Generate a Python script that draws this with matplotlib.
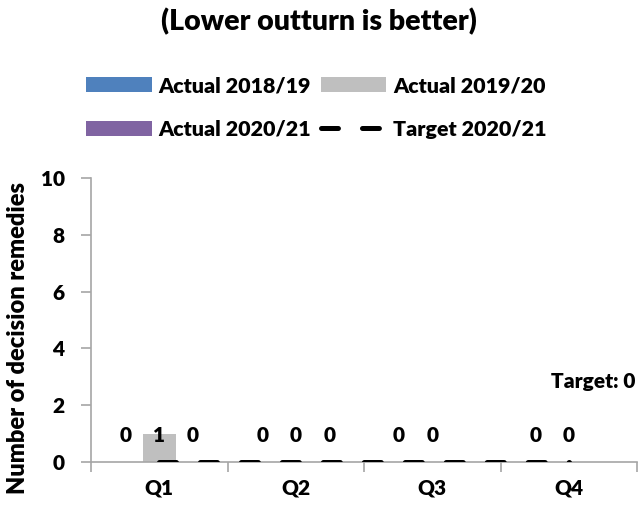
import matplotlib
matplotlib.use("Agg")
import matplotlib.pyplot as plt
import numpy as np
from matplotlib.patches import Patch
from matplotlib.lines import Line2D

plt.rcParams['font.family'] = ['Lato', 'DejaVu Sans']
plt.rcParams['font.weight'] = 'heavy'
plt.rcParams['lines.scale_dashes'] = False

quarters = ["Q1", "Q2", "Q3", "Q4"]
actual_2018_19 = [0, 0, 0, 0]
actual_2019_20 = [1, 0, 0, 0]
actual_2020_21 = [0, 0, None, None]
target_2020_21 = [0, 0, 0, 0]
target_value = 0

series = [
    ("Actual 2018/19", actual_2018_19, "#4F81BD"),
    ("Actual 2019/20", actual_2019_20, "#BFBFBF"),
    ("Actual 2020/21", actual_2020_21, "#8064A2"),
]
W = "heavy"

fig = plt.figure(figsize=(6.41, 5.07), dpi=100)
ax = fig.add_axes([0.142, 0.0888, 0.852, 0.560])

x = np.arange(len(quarters))
width = 0.245
offsets = [-width, 0, width]
for (name, vals, color), off in zip(series, offsets):
    for xi, v in zip(x, vals):
        if v is None:
            continue
        ax.bar(xi + off, v, width=width, color=color, zorder=2)
        ax.text(xi + off, 0.93, f"{v}", ha="center", va="center",
                fontsize=15, fontweight=W, zorder=4)

ax.plot(x, target_2020_21, color="black", linewidth=3.6,
        dashes=(12.2, 17.3), dash_capstyle="round",
        solid_capstyle="round", zorder=3)

ax.text(3.49, 2.82, f"Target: {target_value}", ha="right", va="center",
        fontsize=15, fontweight=W)

ax.set_xlim(-0.5, 3.5)
ax.set_ylim(0, 10)
ax.set_yticks([0, 2, 4, 6, 8, 10])
ax.set_xticks([-0.5, 0.5, 1.5, 2.5, 3.5])
ax.set_xticklabels([])
ax.set_xticks(x, minor=True)
ax.set_xticklabels(quarters, minor=True)
ax.tick_params(axis="x", which="minor", length=0, pad=12, labelsize=15)
ax.tick_params(axis="x", which="major", length=7, color="#A6A6A6", width=1.2)
ax.tick_params(axis="y", length=7, color="#A6A6A6", width=1.2, labelsize=15, pad=12)
for lab in ax.get_xticklabels(minor=True) + ax.get_yticklabels():
    lab.set_fontweight(W)

for side in ["top", "right"]:
    ax.spines[side].set_visible(False)
for side in ["left", "bottom"]:
    ax.spines[side].set_color("#A6A6A6")
    ax.spines[side].set_linewidth(1.2)

ax.set_ylabel("Number of decision remedies", fontsize=17, fontweight=W)
ax.yaxis.set_label_coords(-0.114, 0.437)

fig.text(0.497, 0.957, "(Lower outturn is better)", ha="center", va="center",
         fontsize=20.5, fontweight=W)

handles = [
    Patch(facecolor="#4F81BD", label="Actual 2018/19"),
    Patch(facecolor="#8064A2", label="Actual 2020/21"),
    Patch(facecolor="#BFBFBF", label="Actual 2019/20"),
    Line2D([0], [0], color="black", linewidth=3.6, dashes=(12.2, 17.3),
           dash_capstyle="round", label="Target 2020/21"),
]
fig.legend(handles=handles, ncol=2, loc="center", bbox_to_anchor=(0.494, 0.788),
           frameon=False, handlelength=3.05, handleheight=0.72,
           handletextpad=0.33, columnspacing=0.45, labelspacing=1.15,
           prop={"weight": W, "size": 15.4})

fig.savefig("out.png", dpi=100)
